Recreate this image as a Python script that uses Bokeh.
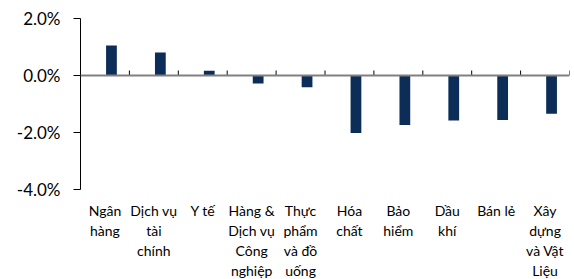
from bokeh.plotting import figure
from bokeh.models import Range1d, FixedTicker, Span, ColumnDataSource
from bokeh.embed import file_html
from bokeh.resources import INLINE

categories = ["Ngân\nhàng", "Dịch vụ\ntài\nchính", "Y tế", "Hàng &\nDịch vụ\nCông\nnghiệp",
              "Thực\nphẩm\nvà đồ\nuống", "Hóa\nchất", "Bảo\nhiểm", "Dầu\nkhí", "Bán lẻ",
              "Xây\ndựng\nvà Vật\nLiệu"]
values = [1.05, 0.81, 0.17, -0.28, -0.41, -2.02, -1.74, -1.58, -1.56, -1.34]
y_ticks = [-4, -2, 0, 2]

W, H = 574, 289
p = figure(width=W, height=H, output_backend="svg", toolbar_location=None,
           x_range=Range1d(0, len(categories)), y_range=Range1d(-4, 2),
           min_border_left=80, min_border_right=5, min_border_top=18, min_border_bottom=100)
p.outline_line_color = None
p.grid.visible = False
p.background_fill_color = "white"

idx = list(range(len(categories)))
src = ColumnDataSource(dict(x=[i + 0.5 + 0.133 for i in idx], top=values,
                            bx=[i + 1 for i in idx]))
p.vbar(x="x", top="top", bottom=0, width=0.22, source=src,
       fill_color="#0b2d57", line_color=None)

p.add_layout(Span(location=0, dimension="width", line_color="#808080", line_width=2))
p.segment(x0="bx", x1="bx", y0=0, y1=0.175, source=src, line_color="black", line_width=1)

xa = p.xaxis[0]
centers = [i + 0.5 for i in idx]
xa.ticker = FixedTicker(ticks=centers)
xa.major_label_overrides = {c: lab for c, lab in zip(centers, categories)}
xa.axis_line_color = None
xa.major_tick_line_color = None
xa.minor_tick_line_color = None
xa.major_tick_out = 0
xa.major_tick_in = 0
xa.major_label_standoff = 12
xa.major_label_text_font = "Lato"
xa.major_label_text_font_size = "14px"
xa.major_label_text_color = "black"
xa.major_label_text_line_height = 1.19

ya = p.yaxis[0]
ya.ticker = FixedTicker(ticks=y_ticks)
ya.major_label_overrides = {t: f"{t:.1f}%" for t in y_ticks}
ya.major_tick_out = 7
ya.major_tick_in = 0
ya.minor_tick_out = 0
ya.minor_tick_in = 0
ya.axis_line_color = "black"
ya.major_tick_line_color = "black"
ya.major_label_standoff = 13
ya.major_label_text_font = "Lato"
ya.major_label_text_font_size = "17px"
ya.major_label_text_color = "black"

open("out.html", "w").write(file_html(p, INLINE))
